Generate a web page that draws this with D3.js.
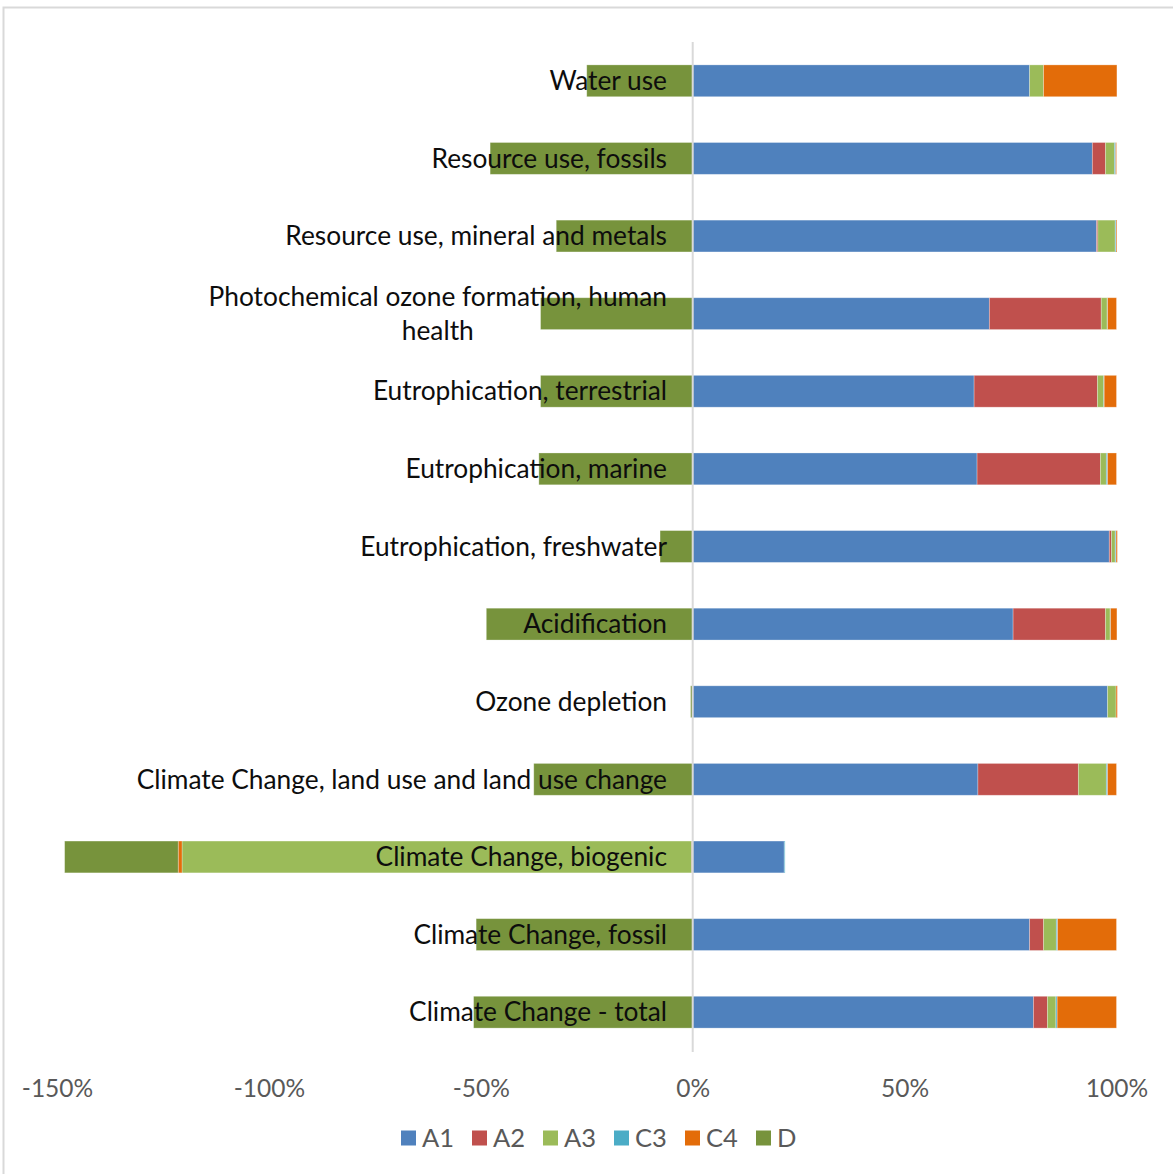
<!DOCTYPE html>
<html>
<head>
<meta charset="utf-8">
<script src="https://cdn.jsdelivr.net/npm/d3@7"></script>
<style>
  body { margin: 0; background: #fff; }
  svg { display: block; font-family: Lato, "Open Sans", sans-serif; }
</style>
</head>
<body>
<div id="chart"></div>
<script>
// Stacked bar chart, share of impact per module (top row first)

const width = 1173;
const height = 1174;

const categories = [
  "Water use",
  "Resource use, fossils",
  "Resource use, mineral and metals",
  "Photochemical ozone formation, human health",
  "Eutrophication, terrestrial",
  "Eutrophication, marine",
  "Eutrophication, freshwater",
  "Acidification",
  "Ozone depletion",
  "Climate Change, land use and land use change",
  "Climate Change, biogenic",
  "Climate Change, fossil",
  "Climate Change - total"
];

// values in percent
const A1 = [79.5, 94.3, 95.3, 70.0, 66.4, 67.1, 98.3, 75.6, 97.9, 67.3, 21.6, 79.5, 80.4];
const A2 = [0.0, 3.1, 0.3, 26.4, 29.1, 29.1, 0.5, 21.8, 0.0, 23.7, -0.3, 3.3, 3.3];
const A3 = [3.3, 2.1, 4.1, 1.4, 1.5, 1.4, 0.9, 1.1, 2.0, 6.6, -120.2, 3.0, 2.0];
const C3 = [0.0, 0.3, 0.2, 0.1, 0.1, 0.3, 0.2, 0.1, 0.0, 0.3, 0.2, 0.3, 0.3];
const C4 = [17.3, 0.2, 0.2, 2.1, 2.9, 2.1, 0.3, 1.5, 0.3, 2.1, -0.9, 13.9, 14.0];
const D  = [-25.0, -47.8, -32.2, -35.9, -35.9, -36.3, -7.7, -48.7, -0.5, -37.5, -26.8, -51.1, -51.7];

const seriesNames = ["A1", "A2", "A3", "C3", "C4", "D"];
const seriesColors = ["#4F81BD", "#C0504D", "#9BBB59", "#4BACC6", "#E36C09", "#77933C"];
const tickValues = [-150, -100, -50, 0, 50, 100];

// table for d3.stack
const seriesData = [A1, A2, A3, C3, C4, D];
const table = categories.map((c, i) => {
  const row = {category: c};
  seriesNames.forEach((s, j) => row[s] = seriesData[j][i]);
  return row;
});

const stacked = d3.stack()
  .keys(seriesNames)
  .offset(d3.stackOffsetDiverging)(table);

const svg = d3.select("#chart")
  .append("svg")
  .attr("width", width)
  .attr("height", height);

// chart border
svg.append("rect")
  .attr("x", 3.5).attr("y", 7.5)
  .attr("width", width + 10).attr("height", height + 10)
  .attr("fill", "none")
  .attr("stroke", "#d9d9d9")
  .attr("stroke-width", 2);

const x = d3.scaleLinear()
  .domain([-150, 100])
  .range([57, 1116.5]);

const y = d3.scaleBand()
  .domain(categories)
  .range([42, 1051])
  .paddingInner(0.59)
  .paddingOuter(0.295);

const color = d3.scaleOrdinal().domain(seriesNames).range(seriesColors);

// bars
svg.append("g")
  .selectAll("g")
  .data(stacked)
  .join("g")
    .attr("fill", d => color(d.key))
  .selectAll("rect")
  .data(d => d)
  .join("rect")
    .attr("x", d => x(Math.min(d[0], d[1])))
    .attr("y", d => y(d.data.category))
    .attr("width", d => Math.abs(x(d[1]) - x(d[0])))
    .attr("height", y.bandwidth())
    .attr("stroke", "#fff")
    .attr("stroke-opacity", 0.35)
    .attr("stroke-width", 0.8);

// vertical category axis at 0
svg.append("line")
  .attr("x1", x(0)).attr("x2", x(0))
  .attr("y1", 42).attr("y2", 1052)
  .attr("stroke", "#d9d9d9")
  .attr("stroke-width", 2);

// category labels, right aligned, wrapped when too long
const labelRight = 667;
const lineHeight = 34;
const labels = svg.append("g")
  .attr("font-size", "26.3px")
  .attr("fill", "#0d0d0d");

categories.forEach(c => {
  const cy = y(c) + y.bandwidth() / 2;
  if (c === "Photochemical ozone formation, human health") {
    const t = labels.append("text").attr("text-anchor", "middle");
    const l1 = t.append("tspan").text("Photochemical ozone formation, human")
      .attr("dy", "0.35em");
    const w = l1.node().getComputedTextLength();
    const cx = labelRight - w / 2;
    t.attr("x", cx).attr("y", cy - lineHeight / 2);
    l1.attr("x", cx);
    t.append("tspan").text("health").attr("x", cx).attr("dy", lineHeight);
  } else {
    labels.append("text")
      .attr("x", labelRight)
      .attr("y", cy)
      .attr("dy", "0.35em")
      .attr("text-anchor", "end")
      .text(c);
  }
});

// x axis tick labels (no line, no ticks)
const xAxis = svg.append("g")
  .attr("transform", "translate(0,1088)")
  .call(d3.axisBottom(x).tickValues(tickValues).tickFormat(d => d + "%").tickSize(0));
xAxis.select(".domain").remove();
xAxis.selectAll("text")
  .attr("y", 0)
  .attr("dy", "0.35em")
  .attr("font-family", "Lato, sans-serif")
  .attr("font-size", "24.5px")
  .attr("fill", "#595959");

// legend
const legend = svg.append("g")
  .attr("transform", "translate(401,1138)");
const item = legend.selectAll("g")
  .data(seriesNames)
  .join("g")
    .attr("transform", (d, i) => `translate(${i * 71},0)`);
item.append("rect")
  .attr("x", 0).attr("y", -7.5)
  .attr("width", 15).attr("height", 15)
  .attr("fill", d => color(d));
item.append("text")
  .attr("x", 21)
  .attr("dy", "0.35em")
  .attr("font-size", "25.5px")
  .attr("fill", "#595959")
  .text(d => d);
</script>
</body>
</html>
